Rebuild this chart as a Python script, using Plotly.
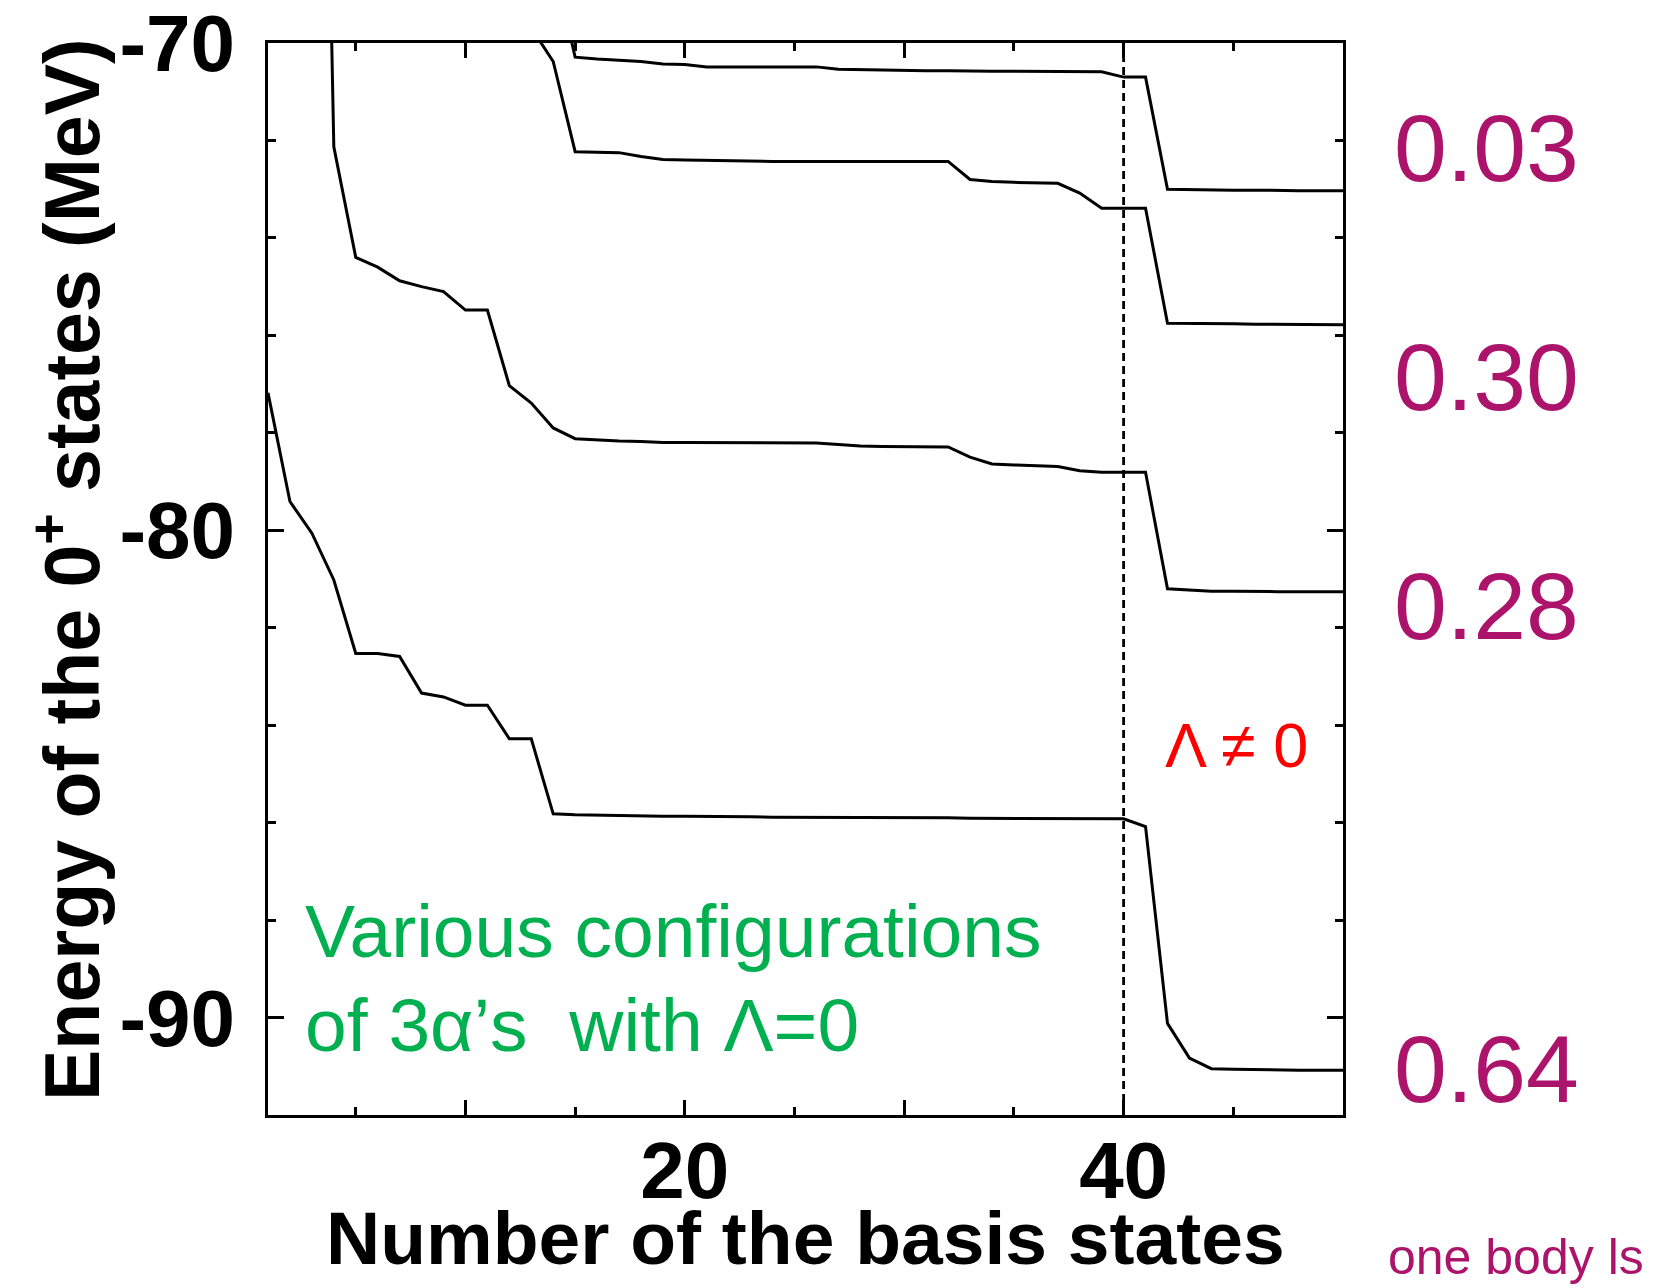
import plotly.graph_objects as go

# Number of basis states used in the diagonalisation
n_basis = list(range(1, 51))

# Energies (MeV) of the four lowest 0+ states versus basis size (None = not yet obtained)
e_state1 = [-77.18, -79.41, -80.06, -81.02, -82.53, -82.53, -82.59, -83.34, -83.42, -83.59,
            -83.59, -84.28, -84.28, -85.82, -85.84, -85.85, -85.86, -85.86, -85.87, -85.87,
            -85.87, -85.88, -85.88, -85.89, -85.89, -85.89, -85.89, -85.90, -85.90, -85.90,
            -85.90, -85.90, -85.91, -85.91, -85.91, -85.91, -85.92, -85.92, -85.92, -85.92,
            -86.08, -90.12, -90.83, -91.05, -91.06, -91.07, -91.07, -91.08, -91.08, -91.08]

e_state2 = [None, None, -49.70, -72.13, -74.40, -74.60, -74.88, -75.00, -75.10, -75.48,
            -75.48, -77.03, -77.39, -77.90, -78.12, -78.15, -78.17, -78.18, -78.20, -78.20,
            -78.20, -78.21, -78.21, -78.21, -78.21, -78.21, -78.24, -78.27, -78.28, -78.28,
            -78.29, -78.29, -78.50, -78.64, -78.66, -78.68, -78.69, -78.78, -78.81, -78.81,
            -78.81, -81.20, -81.23, -81.25, -81.25, -81.26, -81.26, -81.26, -81.26, -81.26]

e_state3 = [None, None, None, None, None, None, None, None, None, None,
            None, None, -69.69, -70.38, -72.23, -72.24, -72.25, -72.33, -72.39, -72.40,
            -72.41, -72.42, -72.43, -72.43, -72.43, -72.43, -72.43, -72.43, -72.43, -72.43,
            -72.43, -72.43, -72.80, -72.84, -72.86, -72.87, -72.88, -73.08, -73.39, -73.39,
            -73.39, -75.75, -75.75, -75.76, -75.76, -75.77, -75.77, -75.77, -75.78, -75.78]

e_state4 = [None, None, None, None, None, None, None, None, None, None,
            None, None, None, -68.33, -70.29, -70.33, -70.36, -70.38, -70.43, -70.44,
            -70.49, -70.49, -70.49, -70.49, -70.49, -70.49, -70.54, -70.55, -70.56, -70.57,
            -70.57, -70.57, -70.58, -70.58, -70.58, -70.58, -70.59, -70.59, -70.59, -70.70,
            -70.70, -73.00, -73.01, -73.02, -73.02, -73.02, -73.03, -73.03, -73.03, -73.03]

# Basis size where the Lambda != 0 configurations are switched on
lambda_switch = 40

# Axis ticks
x_tickvals = [10, 20, 30, 40]
x_ticktext = ["", "20", "", "40"]
y_tickvals = [-90, -80, -70]
y_ticktext = ["-90", "-80", "-70"]

# One-body ls contributions written beside each converged level
ls_labels = ["0.03", "0.30", "0.28", "0.64"]
ls_label_y = [148, 377, 606, 1069]  # pixel rows of the labels

W, H = 1670, 1288
L, R, T, B = 268, 1343, 43, 1115
PW, PH = R - L, B - T

FONT = "Arial, Liberation Sans, sans-serif"
MAGENTA = "#AC146C"
GREEN = "#00B050"

fig = go.Figure()
for series in (e_state1, e_state2, e_state3, e_state4):
    fig.add_trace(go.Scatter(x=n_basis, y=series, mode="lines",
                             line=dict(color="black", width=3),
                             connectgaps=False, showlegend=False))

fig.add_shape(type="line", xref="x", yref="paper", x0=lambda_switch, x1=lambda_switch,
              y0=0, y1=1, line=dict(color="black", width=2.8, dash="8px,5px"))


def px_x(p):
    return (p - L) / PW


def px_y(p):
    return (B - p) / PH


annotations = [
    dict(text="Energy of the 0<sup>+</sup> states (MeV)", x=px_x(66), y=px_y(570),
         textangle=-90, font=dict(family=FONT, size=77, color="black", weight="bold")),
    dict(text="Number of the basis states", x=px_x(805), y=px_y(1238),
         font=dict(family=FONT, size=75, color="black", weight="bold")),
    dict(text="Various configurations", x=px_x(303), y=px_y(931), xanchor="left",
         font=dict(family=FONT, size=75, color=GREEN)),
    dict(text="of 3α’s  with Λ=0", x=px_x(303), y=px_y(1025), xanchor="left",
         font=dict(family=FONT, size=75, color=GREEN)),
    dict(text="Λ ≠ 0", x=px_x(1236), y=px_y(745),
         font=dict(family=FONT, size=63, color="#FF0000")),
    dict(text="one body ls", x=px_x(1386), y=px_y(1257), xanchor="left",
         font=dict(family=FONT, size=50, color=MAGENTA)),
]
for lab, yp in zip(ls_labels, ls_label_y):
    annotations.append(dict(text=lab, x=px_x(1392), y=px_y(yp), xanchor="left",
                            font=dict(family=FONT, size=95, color=MAGENTA)))
for a in annotations:
    a.update(xref="paper", yref="paper", showarrow=False)
    a.setdefault("xanchor", "center")
    a.setdefault("yanchor", "middle")

fig.update_layout(
    width=W, height=H,
    margin=dict(l=L, r=W - R, t=T, b=H - B, autoexpand=False),
    paper_bgcolor="white", plot_bgcolor="white",
    annotations=annotations,
    xaxis=dict(range=[1, 50], showgrid=False, zeroline=False, automargin=False,
               showline=True, linewidth=3, linecolor="black", mirror="ticks",
               ticks="inside", ticklen=15, tickwidth=2.5, tickcolor="black",
               tickvals=x_tickvals, ticktext=x_ticktext, ticklabelstandoff=-16,
               ticklabeloverflow="allow",
               tickfont=dict(family=FONT, size=80, color="black", weight="bold"),
               minor=dict(dtick=5, tick0=0, ticks="inside", ticklen=8,
                          tickwidth=2.5, tickcolor="black", showgrid=False)),
    yaxis=dict(range=[-92, -70], showgrid=False, zeroline=False, automargin=False,
               showline=True, linewidth=3, linecolor="black", mirror="ticks",
               ticks="inside", ticklen=16, tickwidth=2.5, tickcolor="black",
               tickvals=y_tickvals, ticktext=y_ticktext, ticklabelstandoff=14,
               ticklabeloverflow="allow",
               tickfont=dict(family=FONT, size=80, color="black", weight="bold"),
               minor=dict(dtick=2, tick0=-70, ticks="inside", ticklen=8,
                          tickwidth=2.5, tickcolor="black", showgrid=False)),
)

fig.write_html("out.html")
